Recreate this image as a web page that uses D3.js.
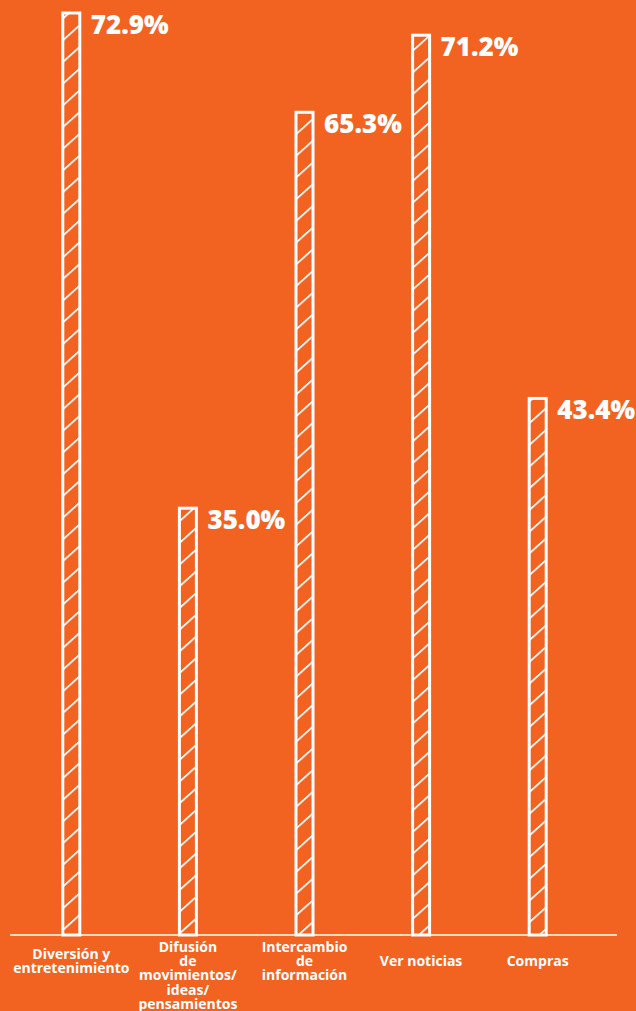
<!DOCTYPE html>
<html lang="es">
<head>
<meta charset="UTF-8" />
<title>Usos</title>
<script src="https://d3js.org/d3.v7.min.js"></script>
<style>
  html, body { margin: 0; padding: 0; background: #f26322; }
  svg { display: block; }
</style>
</head>
<body>
<svg width="636" height="1011"></svg>
<script>
// datos
const categories = [
    ["Diversión y", "entretenimiento"],
    ["Difusión", "de", "movimientos/", "ideas/", "pensamientos"],
    ["Intercambio", "de", "información"],
    ["Ver noticias"],
    ["Compras"],
];
const values = [72.9, 35.0, 65.3, 71.2, 43.4];
const valueLabels = ["72.9%", "35.0%", "65.3%", "71.2%", "43.4%"];

const axisY = 935;
const barW = 17;

const svg = d3.select("svg");

// rayado diagonal
svg.append("defs")
    .append("pattern")
    .attr("id", "hatch")
    .attr("patternUnits", "userSpaceOnUse")
    .attr("width", 10)
    .attr("height", 21.7)
    .attr("patternTransform", "skewY(-42)")
    .append("rect")
    .attr("x", 0)
    .attr("y", 9)
    .attr("width", 10)
    .attr("height", 2.3)
    .attr("fill", "#fff");

const x = d3.scaleBand()
    .domain(d3.range(values.length))
    .range([13, 596]);

// el cero queda por debajo del eje
const y = d3.scaleLinear().domain([0, 72.9]).range([965.5, 13]);

const cx = (i) => x(i) + x.bandwidth() / 2;

svg.append("g").selectAll("rect")
    .data(values)
    .join("rect")
    .attr("x", (d, i) => cx(i) - barW / 2)
    .attr("y", (d) => y(d))
    .attr("width", barW)
    .attr("height", (d) => axisY - y(d))
    .attr("fill", "url(#hatch)")
    .attr("stroke", "#fff")
    .attr("stroke-width", 3);

// eje
svg.append("line")
    .attr("x1", 10)
    .attr("x2", 617)
    .attr("y1", axisY)
    .attr("y2", axisY)
    .attr("stroke", "#fff")
    .attr("stroke-width", 1.5);

// etiquetas de valor
svg.append("g").selectAll("text")
    .data(values)
    .join("text")
    .attr("x", (d, i) => cx(i) + barW / 2 + 11)
    .attr("y", (d) => y(d) + 21)
    .attr("fill", "#fff")
    .style("font-family", "'Open Sans', sans-serif")
    .style("font-weight", 800)
    .style("font-size", "26px")
    .text((d, i) => valueLabels[i]);

// etiquetas de categoria
const lh = 14.2;
svg.append("g").selectAll("text")
    .data(categories)
    .join("text")
    .attr("text-anchor", "middle")
    .attr("fill", "#fff")
    .style("font-family", "'Open Sans', sans-serif")
    .style("font-weight", 700)
    .style("font-size", "14px")
    .each(function (lines, i) {
        const first = Math.max(947, 961 - (lines.length - 1) * lh / 2);
        d3.select(this).selectAll("tspan")
            .data(lines)
            .join("tspan")
            .attr("x", cx(i))
            .attr("y", (d, j) => first + j * lh + 5)
            .text((d) => d);
    });
</script>
</body>
</html>
